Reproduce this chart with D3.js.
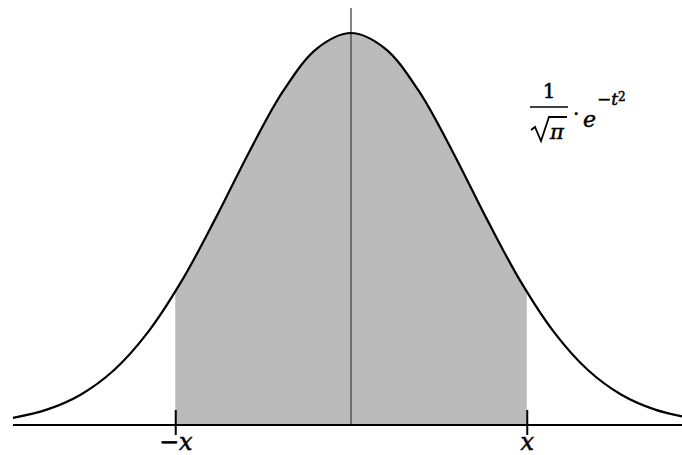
<!DOCTYPE html>
<html>
<head>
<meta charset="utf-8">
<script src="https://cdn.jsdelivr.net/npm/d3@7"></script>
<style>
  html, body { margin: 0; padding: 0; background: #fff; }
  svg { display: block; }
  .math { font-family: 'DejaVu Serif', 'Liberation Serif', serif; fill: #000; stroke: #000; stroke-width: 0.5px; }
</style>
</head>
<body>
<svg id="chart" width="682" height="455"></svg>
<script>
// curve points (t, height)
let tValues = [-2, -1.8, -1.6, -1.4, -1.2, -1, -0.8, -0.6, -0.4, -0.2, 0,
  0.2, 0.4, 0.6, 0.8, 1, 1.2, 1.4, 1.6, 1.8, 2];
let density = [0.0103, 0.0221, 0.0436, 0.0795, 0.134, 0.208, 0.298, 0.394, 0.481, 0.542, 0.564,
  0.542, 0.481, 0.394, 0.298, 0.208, 0.134, 0.0795, 0.0436, 0.0221, 0.0103];
let tickValues = [-1.04, 1.04];
let tickLabels = ['\u2212x', 'x'];

let data = tValues.map((t, i) => ({x: t, y: density[i]}));

let svg = d3.select('#chart');

let xScale = d3.scaleLinear()
  .domain([-2, 2])
  .range([13, 689]);

let yScale = d3.scaleLinear()
  .domain([0, 0.564])
  .range([425, 33]);

let curveFn = d3.line()
  .x(d => xScale(d.x))
  .y(d => yScale(d.y))
  .curve(d3.curveCatmullRom.alpha(0.5));

let areaFn = d3.area()
  .x(d => xScale(d.x))
  .y0(yScale(0))
  .y1(d => yScale(d.y))
  .curve(d3.curveCatmullRom.alpha(0.5));

// shaded part between -x and x
svg.append('clipPath').attr('id', 'band')
  .append('rect')
  .attr('x', xScale(tickValues[0]))
  .attr('y', 0)
  .attr('width', xScale(tickValues[1]) - xScale(tickValues[0]))
  .attr('height', yScale(0));

svg.append('path')
  .attr('d', areaFn(data))
  .attr('clip-path', 'url(#band)')
  .style('fill', '#bbbbbb')
  .style('stroke', 'none');

// middle vertical line
svg.append('line')
  .attr('x1', xScale(0)).attr('x2', xScale(0))
  .attr('y1', 8).attr('y2', yScale(0))
  .style('stroke', '#444')
  .style('stroke-width', 1.3);

svg.append('path')
  .attr('d', curveFn(data))
  .style('fill', 'none')
  .style('stroke', '#000')
  .style('stroke-width', 2.2);

// horizontal axis with the two ticks
let xAxis = d3.axisBottom(xScale)
  .tickValues(tickValues)
  .tickFormat((d, i) => tickLabels[i])
  .tickSize(10)
  .tickPadding(4)
  .tickSizeOuter(0);

let axisG = svg.append('g')
  .attr('transform', `translate(0, ${yScale(0)})`)
  .call(xAxis);

axisG.select('.domain')
  .attr('d', `M13,0H682`)
  .style('stroke', '#000')
  .style('stroke-width', 2);

axisG.selectAll('.tick line')
  .attr('y1', -15)
  .attr('y2', 10)
  .style('stroke', '#000')
  .style('stroke-width', 2);

axisG.selectAll('.tick text')
  .attr('class', 'math')
  .attr('y', 25)
  .attr('dy', 0)
  .style('font-size', '24px')
  .style('font-style', 'italic');

// formula label
let f = svg.append('g').attr('class', 'math');

f.append('text').text('1')
  .attr('x', 549).attr('y', 98)
  .attr('text-anchor', 'middle')
  .style('font-size', '20px');

f.append('line')
  .attr('x1', 530).attr('x2', 568)
  .attr('y1', 107).attr('y2', 107)
  .style('stroke', '#000').style('stroke-width', 1.6);

// radical sign
f.append('path')
  .attr('d', 'M531,130 L535,127 L541,141 L549,117 L567,117')
  .style('fill', 'none')
  .style('stroke', '#000')
  .style('stroke-width', 1.8);

f.append('text').text('\u03c0')
  .attr('x', 550).attr('y', 139)
  .style('font-size', '21px')
  .style('font-style', 'italic');

f.append('text').text('\u00b7')
  .attr('x', 573).attr('y', 121)
  .style('font-size', '20px');

let ex = f.append('text')
  .attr('x', 583).attr('y', 127)
  .style('font-style', 'italic');

ex.append('tspan').text('e').style('font-size', '22px');
ex.append('tspan').text('\u2212t').attr('dx', 1).attr('dy', -22).style('font-size', '17px');
ex.append('tspan').text('2').attr('dy', -4).style('font-size', '12px').style('font-style', 'normal');
</script>
</body>
</html>
